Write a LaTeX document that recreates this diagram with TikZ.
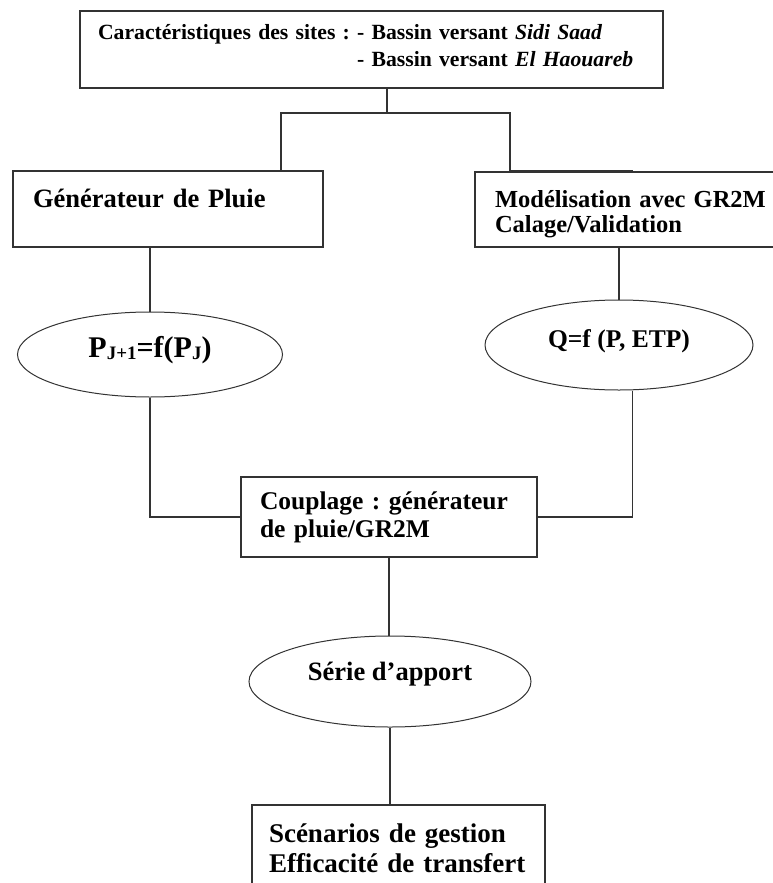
\documentclass[tikz,border=0pt]{standalone}
\usepackage{fontspec}
\setmainfont{Liberation Serif}
\usetikzlibrary{shapes.geometric}
\frenchspacing

\newcommand{\indice}[1]{\raisebox{-2pt}{\fontsize{19}{19}\selectfont #1}}

\begin{document}
\begin{tikzpicture}[x=1pt, y=-1pt,
		trait/.style={draw=black!80, line width=1.2pt},
		boite/.style={trait, rectangle, align=left, inner ysep=0pt},
		bulle/.style={trait, line width=1pt, ellipse, inner sep=0pt}]
	\useasboundingbox (0, 0) rectangle (773, 883);
	\clip (0, 0) rectangle (773, 883);

	\node[boite, minimum height=77pt, text width=547pt, inner xsep=18pt, text height=8pt, text depth=28pt, font=\bfseries\fontsize{21.7}{27}\selectfont] (sites) at (371.5, 49.5) {\mbox{Caractéristiques des sites : - Bassin versant \textit{Sidi Saad}}\\\mbox{\hphantom{Caractéristiques des sites : }- Bassin versant \textit{El Haouareb}}};
	\node[boite, minimum height=76pt, text width=270pt, inner xsep=20pt, text height=0pt, text depth=4pt, font=\bfseries\fontsize{26.5}{29}\selectfont] (gen) at (168, 209) {Générateur de Pluie};
	\node[boite, minimum height=75pt, text width=275pt, inner xsep=20pt, text height=26pt, text depth=31pt, font=\bfseries\fontsize{24.5}{25.5}\selectfont] (model) at (632.5, 209.5) {\mbox{Modélisation avec GR2M}\\\mbox{Calage/Validation}};
	\node[bulle, minimum width=265pt, minimum height=85pt, text height=5pt, text depth=0pt, font=\bfseries\fontsize{30}{30}\selectfont] (pj) at (150, 354.5) {P\indice{J+1}=f(P\indice{J})};
	\node[bulle, minimum width=268pt, minimum height=90pt, text height=4pt, text depth=0pt, font=\bfseries\fontsize{25.5}{28}\selectfont] (q) at (619, 345) {Q=f (P, ETP)};
	\node[boite, minimum height=80pt, text width=258pt, inner xsep=19pt, font=\bfseries\fontsize{25.5}{28}\selectfont] (coupl) at (389, 517) {\mbox{Couplage : générateur}\\\mbox{de pluie/GR2M}};
	\node[bulle, minimum width=282pt, minimum height=91pt, text height=0pt, text depth=3pt, font=\bfseries\fontsize{26.5}{29}\selectfont] (serie) at (390, 681.5) {Série d’apport};
	\node[boite, minimum height=86pt, text width=259pt, inner xsep=17pt, font=\bfseries\fontsize{27}{30}\selectfont] (scen) at (398.5, 848) {\mbox{Scénarios de gestion}\\\mbox{Efficacité de transfert}};

	\coordinate (fourche) at (387, 113);
	\draw[trait] (sites.south -| fourche) -- (fourche);
	\draw[trait] (fourche) -| ([xshift=113pt]gen.north);
	\draw[trait] (fourche) -| ([xshift=-122.5pt]model.north) coordinate (coin);
	\draw[trait, line width=2.4pt] (coin) -- (model.north);
	\draw[trait] (gen.south -| pj.north) -- (pj.north);
	\draw[trait] (model.south -| q.north) -- (q.north);
	\draw[trait] (pj.south) |- (coupl.west);
	\draw[trait] (q.south -| model.south) |- (coupl.east);
	\draw[trait] (coupl.south) -- (coupl.south |- serie.north);
	\draw[trait] (serie.south) -- (serie.south |- scen.north);
\end{tikzpicture}
\end{document}
